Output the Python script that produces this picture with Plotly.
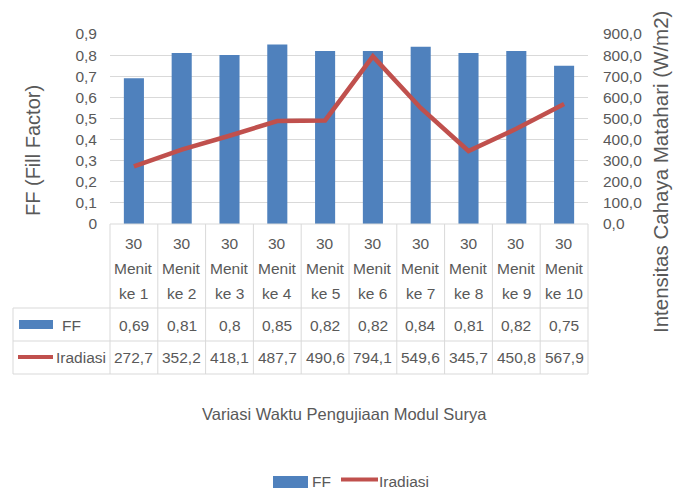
import plotly.graph_objects as go

# ---- data -------------------------------------------------------------
categories = [
    "30 Menit ke 1", "30 Menit ke 2", "30 Menit ke 3", "30 Menit ke 4",
    "30 Menit ke 5", "30 Menit ke 6", "30 Menit ke 7", "30 Menit ke 8",
    "30 Menit ke 9", "30 Menit ke 10",
]
ff_values = [0.69, 0.81, 0.80, 0.85, 0.82, 0.82, 0.84, 0.81, 0.82, 0.75]
irradiance = [272.7, 352.2, 418.1, 487.7, 490.6, 794.1, 549.6, 345.7, 450.8, 567.9]

ff_tickvals = [0, 0.1, 0.2, 0.3, 0.4, 0.5, 0.6, 0.7, 0.8, 0.9]
ff_ticktext = ["0", "0,1", "0,2", "0,3", "0,4", "0,5", "0,6", "0,7", "0,8", "0,9"]
irr_tickvals = [0, 100, 200, 300, 400, 500, 600, 700, 800, 900]

series_names = ["FF", "Iradiasi"]
x_title = "Variasi Waktu Pengujiaan Modul Surya"
y_title = "FF (Fill Factor)"
y2_title = "Intensitas Cahaya Matahari (W/m2)"

# ---- styling ------------------------------------------------------------
BAR_COLOR = "#4F81BD"
LINE_COLOR = "#C0504D"
TEXT_COLOR = "#595959"
GRID_COLOR = "#D9D9D9"
FONT = "Liberation Sans, Arial, sans-serif"

W, H = 681, 490
L, R, T, B = 110, 93, 34, 266
PW = W - L - R
PH = H - T - B
BOTTOM = T + PH


def px(x):
    """pixel column -> paper x"""
    return (x - L) / PW


def py(y):
    """pixel row -> paper y"""
    return (BOTTOM - y) / PH


def fmt(v, decimals=None):
    s = f"{v:.{decimals}f}" if decimals is not None else f"{v:g}"
    return s.replace(".", ",")


fig = go.Figure()
fig.add_trace(go.Bar(
    x=categories, y=ff_values, name=series_names[0],
    marker=dict(color=BAR_COLOR, line=dict(width=0)),
    width=0.42, yaxis="y", showlegend=False,
))
fig.add_trace(go.Scatter(
    x=categories, y=irradiance, name=series_names[1], mode="lines",
    line=dict(color=LINE_COLOR, width=4.5), yaxis="y2", showlegend=False,
))

shapes = []
annotations = []
n = len(categories)

# data table grid
line_style = dict(color=GRID_COLOR, width=1)
row_lines = [308, 341, 374]
for k in range(n + 1):
    shapes.append(dict(type="line", xref="paper", yref="paper",
                       x0=k / n, x1=k / n, y0=py(BOTTOM), y1=py(374),
                       line=line_style))
shapes.append(dict(type="line", xref="paper", yref="paper",
                   x0=px(13), x1=px(13), y0=py(308), y1=py(374), line=line_style))
shapes.append(dict(type="line", xref="paper", yref="paper",
                   x0=0, x1=1, y0=0, y1=0, line=line_style))
for r in row_lines:
    shapes.append(dict(type="line", xref="paper", yref="paper",
                       x0=px(13), x1=1, y0=py(r), y1=py(r), line=line_style))

tbl_font = dict(family=FONT, size=15.5, color=TEXT_COLOR)

# header cells (category names, three lines each) and value cells
for i, cat in enumerate(categories):
    parts = cat.split(" ", 2)
    xc = (i + 0.5) / n
    for part, yy in zip(parts, [243, 268, 293]):
        annotations.append(dict(xref="paper", yref="paper", x=xc, y=py(yy),
                                text=part, showarrow=False, font=tbl_font,
                                xanchor="center", yanchor="middle"))
    annotations.append(dict(xref="paper", yref="paper", x=xc, y=py(325),
                            text=fmt(ff_values[i]), showarrow=False, font=tbl_font,
                            xanchor="center", yanchor="middle"))
    annotations.append(dict(xref="paper", yref="paper", x=xc, y=py(357.5),
                            text=fmt(irradiance[i], 1), showarrow=False, font=tbl_font,
                            xanchor="center", yanchor="middle"))

# legend keys inside the table
shapes.append(dict(type="rect", xref="paper", yref="paper",
                   x0=px(19), x1=px(53), y0=py(320), y1=py(329),
                   fillcolor=BAR_COLOR, line=dict(width=0)))
annotations.append(dict(xref="paper", yref="paper", x=px(60), y=py(325),
                        text=series_names[0], showarrow=False, font=tbl_font,
                        xanchor="left", yanchor="middle"))
shapes.append(dict(type="line", xref="paper", yref="paper",
                   x0=px(18), x1=px(53), y0=py(357), y1=py(357),
                   line=dict(color=LINE_COLOR, width=4)))
annotations.append(dict(xref="paper", yref="paper", x=px(54), y=py(357.5),
                        text=series_names[1], showarrow=False, font=tbl_font,
                        xanchor="left", yanchor="middle"))

# bottom legend
shapes.append(dict(type="rect", xref="paper", yref="paper",
                   x0=px(273), x1=px(308), y0=py(476), y1=py(488),
                   fillcolor=BAR_COLOR, line=dict(width=0)))
annotations.append(dict(xref="paper", yref="paper", x=px(310), y=py(481),
                        text=series_names[0], showarrow=False, font=tbl_font,
                        xanchor="left", yanchor="middle"))
shapes.append(dict(type="line", xref="paper", yref="paper",
                   x0=px(341), x1=px(378), y0=py(479.5), y1=py(479.5),
                   line=dict(color=LINE_COLOR, width=4)))
annotations.append(dict(xref="paper", yref="paper", x=px(377), y=py(481),
                        text=series_names[1], showarrow=False, font=tbl_font,
                        xanchor="left", yanchor="middle"))

# axis titles
annotations.append(dict(xref="paper", yref="paper", x=px(344), y=py(414),
                        text=x_title, showarrow=False,
                        font=dict(family=FONT, size=16.5, color=TEXT_COLOR),
                        xanchor="center", yanchor="middle"))
annotations.append(dict(xref="paper", yref="paper", x=px(33), y=py(151),
                        text=y_title, showarrow=False, textangle=-90,
                        font=dict(family=FONT, size=20, color=TEXT_COLOR),
                        xanchor="center", yanchor="middle"))
annotations.append(dict(xref="paper", yref="paper", x=px(660), y=py(172),
                        text=y2_title, showarrow=False, textangle=-90,
                        font=dict(family=FONT, size=20.5, color=TEXT_COLOR),
                        xanchor="center", yanchor="middle"))

tick_font = dict(family=FONT, size=15.5, color=TEXT_COLOR)

fig.update_layout(
    width=W, height=H,
    margin=dict(l=L, r=R, t=T, b=B, pad=0),
    paper_bgcolor="white", plot_bgcolor="white",
    separators=",.",
    showlegend=False,
    xaxis=dict(type="category", showticklabels=False, showgrid=False,
               showline=False, zeroline=False, ticks="",
               range=[-0.5, n - 0.5]),
    yaxis=dict(range=[0, 0.9], tickvals=ff_tickvals, ticktext=ff_ticktext,
               showgrid=True, gridcolor=GRID_COLOR, gridwidth=1,
               zeroline=False, showline=False, ticks="",
               ticklabelstandoff=12, tickfont=tick_font),
    yaxis2=dict(range=[0, 900], tickvals=irr_tickvals, tickformat=".1f",
                overlaying="y", side="right", showgrid=False,
                zeroline=False, showline=False, ticks="",
                ticklabelstandoff=14, tickfont=tick_font),
    shapes=shapes,
    annotations=annotations,
)

fig.write_html("out.html")
